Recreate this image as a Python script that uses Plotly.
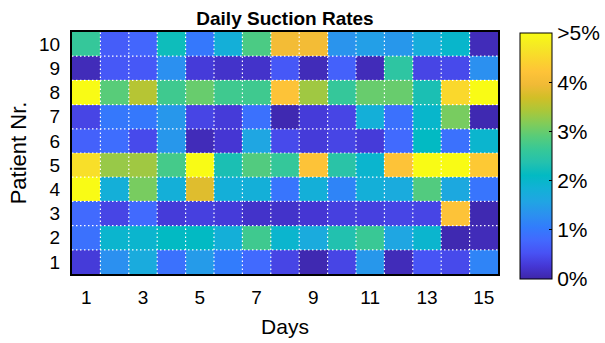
import plotly.graph_objects as go

days = list(range(1, 16))
patients = list(range(1, 11))

# Daily suction rates in % (values >= 5 shown as ">5%"); rows = patient 1..10
rate_p1 = [0.3, 1.3, 1.7, 0.9, 1.45, 1.05, 0.8, 0.4, 0.05, 0.4, 1.4, 0.1, 0.55, 0.45, 1.15]
rate_p2 = [0.9, 1.95, 1.95, 2.1, 2.1, 1.8, 2.7, 1.95, 1.7, 2.35, 2.65, 1.6, 1.95, 0.05, 0.1]
rate_p3 = [0.8, 0.4, 0.8, 0.3, 0.35, 0.3, 0.2, 0.2, 0.25, 0.35, 0.35, 0.4, 0.4, 4.2, 0.05]
rate_p4 = [5.0, 1.8, 3.1, 1.8, 3.8, 1.8, 1.8, 0.95, 1.8, 1.15, 1.8, 1.7, 2.85, 1.65, 0.95]
rate_p5 = [4.6, 3.3, 3.35, 2.75, 5.0, 2.3, 2.85, 2.6, 4.2, 2.45, 1.95, 4.2, 5.0, 5.0, 4.3]
rate_p6 = [0.7, 0.85, 0.45, 1.4, 0.1, 0.25, 1.6, 0.45, 0.3, 0.4, 0.3, 0.8, 2.1, 0.9, 1.95]
rate_p7 = [0.4, 1.0, 1.0, 1.4, 0.4, 0.3, 0.9, 0.05, 0.3, 0.4, 1.8, 0.9, 2.0, 3.1, 0.05]
rate_p8 = [5.0, 2.9, 3.5, 2.7, 3.0, 2.7, 2.7, 4.2, 3.35, 2.6, 3.0, 3.0, 2.3, 4.5, 5.0]
rate_p9 = [0.1, 0.6, 0.6, 1.3, 0.3, 0.2, 0.2, 0.6, 0.1, 0.7, 0.1, 2.5, 0.4, 0.45, 1.3]
rate_p10 = [2.6, 0.65, 0.75, 2.2, 1.0, 1.8, 2.8, 4.0, 4.0, 1.35, 1.5, 1.4, 1.75, 2.0, 0.1]

rates = [rate_p1, rate_p2, rate_p3, rate_p4, rate_p5,
         rate_p6, rate_p7, rate_p8, rate_p9, rate_p10]

x_ticks = [1, 3, 5, 7, 9, 11, 13, 15]
cb_ticks = [0, 1, 2, 3, 4, 5]
cb_labels = ["0%", "1%", "2%", "3%", "4%", ">5%"]

parula_rgb = [
    (0.2422, 0.1504, 0.6603), (0.2706, 0.2147, 0.8364), (0.2810, 0.3228, 0.9579),
    (0.2602, 0.4123, 0.9952), (0.1963, 0.4847, 0.9892), (0.1687, 0.5703, 0.9359),
    (0.1248, 0.6459, 0.8883), (0.0689, 0.6948, 0.8394), (0.0067, 0.7312, 0.7660),
    (0.1408, 0.7584, 0.6842), (0.2161, 0.7843, 0.5923), (0.3406, 0.8008, 0.4789),
    (0.5044, 0.7993, 0.3480), (0.6720, 0.7793, 0.2227), (0.8203, 0.7498, 0.1535),
    (0.9393, 0.7288, 0.2100), (0.9970, 0.7659, 0.2199), (0.9786, 0.8386, 0.1766),
    (0.9597, 0.9135, 0.1423), (0.9769, 0.9839, 0.0805),
]
n = len(parula_rgb)
parula = [[i / (n - 1), "rgb(%d,%d,%d)" % tuple(round(c * 255) for c in rgb)]
          for i, rgb in enumerate(parula_rgb)]

FONT = "Liberation Sans, Arial, sans-serif"
L, R, T, B = 72, 498, 32, 274

fig = go.Figure(go.Heatmap(
    x=days, y=patients, z=rates, zmin=0, zmax=5, colorscale=parula,
    colorbar=dict(
        thicknessmode="pixels", thickness=32, lenmode="pixels", len=246,
        x=(520 - L) / (R - L), xanchor="left",
        y=(B - (33 + 279) / 2) / (B - T), yanchor="middle", xpad=0, ypad=0,
        outlinecolor="black", outlinewidth=1,
        tickvals=cb_ticks, ticktext=cb_labels, ticks="inside", ticklen=3,
        tickcolor="black",
        tickfont=dict(size=21, color="black", family=FONT),
    ),
))

shapes = []
for i in range(len(days) - 1):
    shapes.append(dict(type="line", xref="x", yref="paper", x0=i + 1.5, x1=i + 1.5,
                       y0=0, y1=1, line=dict(color="white", width=1.2, dash="1.5px,2.5px")))
for j in range(len(patients) - 1):
    shapes.append(dict(type="line", xref="paper", yref="y", x0=0, x1=1,
                       y0=j + 1.5, y1=j + 1.5, line=dict(color="white", width=1.2, dash="1.5px,2.5px")))

fig.update_layout(
    width=605, height=343,
    margin=dict(l=L, r=605 - R, t=T, b=343 - B, autoexpand=False),
    paper_bgcolor="white", plot_bgcolor="white",
    font=dict(family=FONT, color="black"),
    title=dict(text="<b>Daily Suction Rates</b>", x=(L + R) / 2 / 605, xanchor="center",
               y=1 - 18 / 343, yanchor="middle", font=dict(size=19, color="black")),
    shapes=shapes,
    xaxis=dict(tickvals=x_ticks, range=[0.5, 15.5], showgrid=False, zeroline=False,
               showline=True, linecolor="black", linewidth=2, mirror=True,
               ticks="", tickfont=dict(size=19), ticklabelstandoff=5,
               title=dict(text="Days", font=dict(size=21), standoff=13)),
    yaxis=dict(tickvals=patients, range=[0.5, 10.5], showgrid=False, zeroline=False,
               showline=True, linecolor="black", linewidth=2, mirror=True,
               ticks="", tickfont=dict(size=19), ticklabelstandoff=6,
               title=dict(text="Patient Nr.", font=dict(size=22), standoff=6)),
)

fig.write_html("out.html")
